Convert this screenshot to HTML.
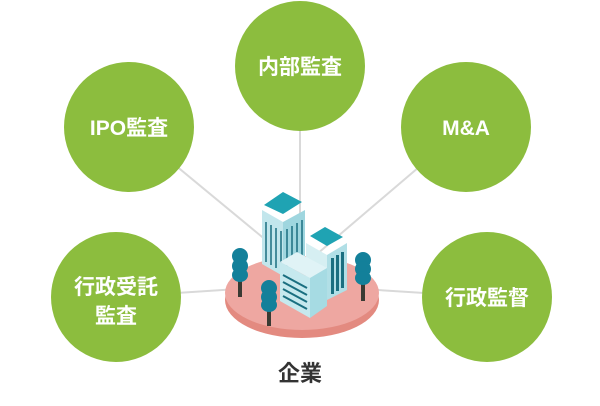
<!DOCTYPE html>
<html><head><meta charset="utf-8"><style>
html,body{margin:0;padding:0;background:#fff;}
svg{display:block}
text{font-family:"Liberation Sans","Noto Sans CJK JP",sans-serif;font-weight:bold;}
</style></head><body>
<svg width="600" height="406" viewBox="0 0 600 406" xmlns="http://www.w3.org/2000/svg">
<g stroke="#d9d9d9" stroke-width="2">
<line x1="300" y1="68" x2="300" y2="230"/>
<line x1="129" y1="127" x2="290" y2="260"/>
<line x1="466" y1="127" x2="310" y2="260"/>
<line x1="116" y1="297" x2="300" y2="285"/>
<line x1="487" y1="297" x2="300" y2="285"/>
</g>
<g fill="#8cbd3e">
<circle cx="300" cy="66" r="65"/>
<circle cx="129" cy="127" r="65"/>
<circle cx="466" cy="127" r="65"/>
<circle cx="116" cy="297" r="65"/>
<circle cx="487" cy="297" r="65"/>
</g>
<g fill="#fff" font-size="21" text-anchor="middle">
<text x="300" y="74">内部監査</text>
<text x="129" y="135">IPO監査</text>
<text x="466" y="135">M&amp;A</text>
<text x="116" y="294">行政受託</text>
<text x="116" y="323">監査</text>
<text x="487" y="305">行政監督</text>
</g>
<ellipse cx="302" cy="300" rx="77" ry="38" fill="#e38a80"/>
<ellipse cx="302" cy="293" rx="77" ry="37" fill="#eea7a1"/>
<!-- tall tower -->
<polygon points="264,205 283,192 302,202 283,214" fill="#1fa3b3"/>
<polygon points="262,210 283,222 283,276 262,264" fill="#c2e6ec"/>
<polygon points="283,222 305,210 305,264 283,276" fill="#9fd6df"/>
<g stroke="#1a6f80" stroke-width="1.5">
<line x1="266" y1="222" x2="266" y2="262"/><line x1="271" y1="225" x2="271" y2="265"/><line x1="276" y1="228" x2="276" y2="268"/><line x1="281" y1="231" x2="281" y2="271"/>
<line x1="287" y1="229" x2="287" y2="270"/><line x1="292" y1="226" x2="292" y2="267"/><line x1="297" y1="223" x2="297" y2="264"/><line x1="302" y1="220" x2="302" y2="261"/>
</g>
<!-- medium building -->
<polygon points="310,236 325,227 343,237 327,246" fill="#1fa3b3"/>
<polygon points="306,243 327,255 327,300 306,288" fill="#d6eff2"/>
<polygon points="327,255 347,243 347,290 327,300" fill="#b1dfe6"/>
<g fill="#1a6f80">
<rect x="331" y="258" width="3" height="36"/><rect x="336" y="255" width="3" height="36"/><rect x="341" y="252" width="3" height="36"/>
</g>
<!-- front building -->
<polygon points="280,262 297,252 327,268 310,278" fill="#e0f3f6"/>
<polygon points="280,262 310,278 310,318 280,301" fill="#c6e9ee"/>
<polygon points="310,278 327,268 327,306 310,318" fill="#a6dbe3"/>
<g stroke="#1a6f80" stroke-width="2">
<line x1="283" y1="275" x2="307" y2="288"/><line x1="283" y1="282" x2="307" y2="295"/><line x1="283" y1="289" x2="307" y2="302"/><line x1="283" y1="296" x2="307" y2="309"/>
</g>
<!-- trees -->
<g>
<rect x="238" y="270" width="4" height="27" fill="#3a3a33"/>
<ellipse cx="240" cy="256" rx="8" ry="8" fill="#13809a"/><ellipse cx="240" cy="266" rx="8" ry="8" fill="#13809a"/><ellipse cx="240" cy="275" rx="8" ry="7" fill="#13809a"/>
<rect x="267" y="300" width="4" height="26" fill="#3a3a33"/>
<ellipse cx="269" cy="288" rx="8" ry="8" fill="#13809a"/><ellipse cx="269" cy="297" rx="8" ry="8" fill="#13809a"/><ellipse cx="269" cy="305" rx="8" ry="7" fill="#13809a"/>
<rect x="361" y="275" width="4" height="26" fill="#3a3a33"/>
<ellipse cx="363" cy="260" rx="8" ry="8" fill="#13809a"/><ellipse cx="363" cy="269" rx="8" ry="8" fill="#13809a"/><ellipse cx="363" cy="278" rx="8" ry="7" fill="#13809a"/>
</g>
<text x="300" y="381" font-size="22" fill="#333" text-anchor="middle">企業</text>
</svg>
</body></html>
